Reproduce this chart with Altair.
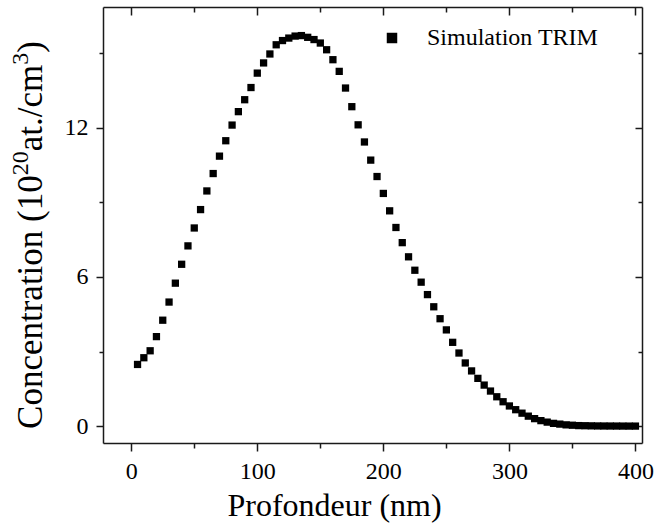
import altair as alt
import pandas as pd

# ---- data ----
depth = list(range(5, 405, 5))
conc = [
    2.48, 2.75, 3.03, 3.60, 4.26, 4.99, 5.75, 6.51, 7.25, 7.97,
    8.71, 9.46, 10.16, 10.86, 11.48, 12.11, 12.65, 13.13, 13.62, 14.20,
    14.61, 14.97, 15.34, 15.51, 15.61, 15.69, 15.71, 15.64, 15.55, 15.41,
    15.14, 14.74, 14.27, 13.60, 12.85, 12.12, 11.43, 10.70, 10.04, 9.36,
    8.66, 7.99, 7.38, 6.81, 6.27, 5.79, 5.29, 4.80, 4.32, 3.87,
    3.37, 2.94, 2.54, 2.22, 1.92, 1.65, 1.41, 1.18, 0.98, 0.81,
    0.66, 0.52, 0.40, 0.30, 0.22, 0.16, 0.11, 0.08, 0.05, 0.035,
    0.02, 0.015, 0.01, 0.006, 0.004, 0.003, 0.002, 0.001, 0.0, 0.0,
]
series_name = "Simulation TRIM"
x_ticks = [0, 50, 100, 150, 200, 250, 300, 350, 400]
y_ticks = [0, 3, 6, 9, 12, 15]
x_title = "Profondeur (nm)"
# y title: "Concentration (10^20 at./cm^3)" as pieces (text, is_superscript)
y_title_parts = [("Concentration (10", False), ("20", True), ("at./cm", False), ("3", True), (")", False)]

df = pd.DataFrame({"depth": depth, "conc": conc, "series": [series_name] * len(depth)})

FONT = "Liberation Serif"
W, H = 539, 436
AX = "#1a1a1a"

xs = alt.Scale(domain=[-22.4, 405.2], nice=False, zero=False)
ys = alt.Scale(domain=[-0.68, 16.86], nice=False, zero=False)

tick_x = {"condition": {"test": "datum.value % 100 === 0", "value": 8}, "value": 5}
tick_y = {"condition": {"test": "datum.value % 6 === 0", "value": 7}, "value": 4}

common = dict(domainColor=AX, domainWidth=1.5, tickColor=AX, tickWidth=1.5, grid=False,
              labelFont=FONT, labelFontSize=24, labelColor="black",
              titleFont=FONT, titleFontSize=32, titleFontWeight="normal", titleColor="black")

points = alt.Chart(df).mark_square(size=53, opacity=1).encode(
    x=alt.X("depth:Q", scale=xs, axis=alt.Axis(
        values=x_ticks, tickSize=tick_x, orient="bottom",
        labelExpr="datum.value % 100 === 0 ? datum.label : ''",
        labelPadding=8, title=x_title, titleX=231, titleY=72,
        titleBaseline="alphabetic", titleAnchor="middle", **common)),
    y=alt.Y("conc:Q", scale=ys, axis=alt.Axis(
        values=y_ticks, tickSize=tick_y, orient="left",
        labelExpr="datum.value % 6 === 0 ? datum.label : ''",
        labelPadding=8, title=None, **common)),
    color=alt.Color("series:N", scale=alt.Scale(range=["black"]), legend=alt.Legend(
        orient="none", legendX=277, legendY=19, title=None, padding=0,
        symbolType="square", symbolSize=110, symbolStrokeWidth=0, labelLimit=0,
        labelFont=FONT, labelFontSize=24, labelColor="black", labelOffset=23)),
)

frame = alt.Chart(df).mark_square(opacity=0).encode(
    x=alt.X("depth:Q", scale=xs, axis=alt.Axis(
        values=x_ticks, tickSize=tick_x, orient="bottom", offset=-H,
        labels=False, title=None, domainColor=AX, domainWidth=1.5,
        tickColor=AX, tickWidth=1.5, grid=False)),
    y=alt.Y("conc:Q", scale=ys, axis=alt.Axis(
        values=y_ticks, tickSize=tick_y, orient="left", offset=-W,
        labels=False, title=None, domainColor=AX, domainWidth=1.5,
        tickColor=AX, tickWidth=1.5, grid=False)),
)

# ---- y-axis title laid out as rotated text pieces with real superscripts ----
ADV = {"C": 667, "o": 500, "n": 500, "c": 444, "e": 444, "t": 278, "r": 333, "a": 444,
       "i": 278, " ": 250, "(": 333, ")": 333, "1": 500, "0": 500, "2": 500, "3": 500,
       ".": 250, "/": 278, "m": 778}
MAIN_FS, SUP_FS = 35, 24
BASE_X, SUP_X = -61.5, -75
CENTER_Y = 228


def text_len(s, fs):
    return sum(ADV.get(ch, 500) for ch in s) / 1000.0 * fs


total = sum(text_len(t, SUP_FS if sup else MAIN_FS) for t, sup in y_title_parts)
cur_y = CENTER_Y + total / 2
title_layers = []
for t, sup in y_title_parts:
    fs = SUP_FS if sup else MAIN_FS
    title_layers.append(
        alt.Chart(pd.DataFrame({"t": [t]})).mark_text(
            angle=270, align="left", baseline="alphabetic", font=FONT, fontSize=fs, color="black"
        ).encode(text="t:N", x=alt.value(SUP_X if sup else BASE_X), y=alt.value(cur_y))
    )
    cur_y -= text_len(t, fs)

chart = alt.layer(points, frame, *title_layers).resolve_axis(x="independent", y="independent").properties(
    width=W, height=H,
    padding={"left": 103, "top": 7, "right": 13, "bottom": 80},
    autosize=alt.AutoSizeParams(type="none"),
    background="white",
).configure_view(stroke=None)

chart.save("out.html", embed_options={"renderer": "svg", "actions": False})
